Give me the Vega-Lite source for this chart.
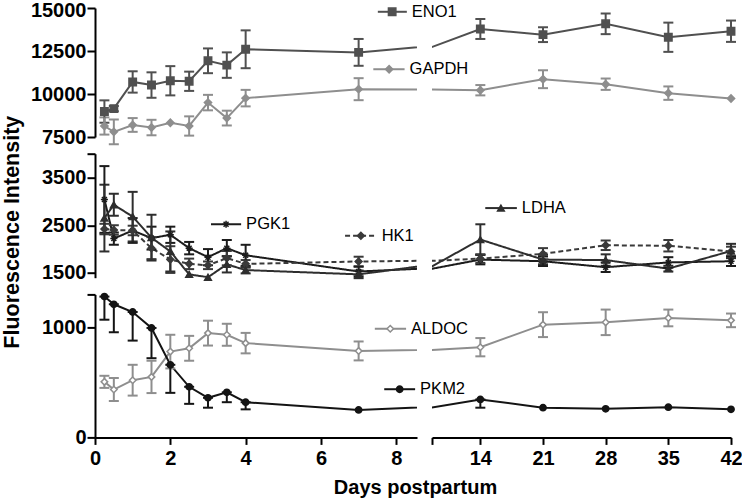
{
  "$schema": "https://vega.github.io/schema/vega-lite/v6.json",
  "background": "white",
  "padding": {"left": 0, "top": 0, "right": 6, "bottom": 0},
  "bounds": "flush",
  "columns": 2,
  "spacing": {"row": 16.7, "column": 15},
  "config": {
    "view": {"stroke": null},
    "axis": {
      "domainColor": "#000", "domainWidth": 2, "tickColor": "#000", "tickWidth": 2, "tickSize": 8,
      "labelColor": "#000", "labelFont": "Liberation Sans", "labelFontWeight": "bold", "labelFontSize": 20,
      "labelPadding": 1, "titleFont": "Liberation Sans", "titleFontWeight": "bold", "titleFontSize": 20,
      "titleColor": "#000", "grid": false, "labelOverlap": false, "labelFlush": false
    },
    "text": {"font": "Liberation Sans"}
  },
  "datasets": {
    "d": [
      {"gene": "ENO1", "day": 0.25, "v": 8980, "lo": 8330, "hi": 9630},
      {"gene": "ENO1", "day": 0.5, "v": 9150, "lo": 9000, "hi": 9300},
      {"gene": "ENO1", "day": 1, "v": 10700, "lo": 10080, "hi": 11320},
      {"gene": "ENO1", "day": 1.5, "v": 10520, "lo": 9780, "hi": 11260},
      {"gene": "ENO1", "day": 2, "v": 10770, "lo": 9920, "hi": 11620},
      {"gene": "ENO1", "day": 2.5, "v": 10740, "lo": 10180, "hi": 11300},
      {"gene": "ENO1", "day": 3, "v": 11930, "lo": 11210, "hi": 12650},
      {"gene": "ENO1", "day": 3.5, "v": 11680, "lo": 10940, "hi": 12420},
      {"gene": "ENO1", "day": 4, "v": 12600, "lo": 11500, "hi": 13700},
      {"gene": "ENO1", "day": 7, "v": 12420, "lo": 11640, "hi": 13200},
      {"gene": "ENO1", "day": 14, "v": 13780, "lo": 13200, "hi": 14360},
      {"gene": "ENO1", "day": 21, "v": 13450, "lo": 13020, "hi": 13880},
      {"gene": "ENO1", "day": 28, "v": 14080, "lo": 13480, "hi": 14680},
      {"gene": "ENO1", "day": 35, "v": 13300, "lo": 12450, "hi": 14150},
      {"gene": "ENO1", "day": 42, "v": 13650, "lo": 13030, "hi": 14270},
      {"gene": "GAPDH", "day": 0.25, "v": 8140, "lo": 7640, "hi": 8640},
      {"gene": "GAPDH", "day": 0.5, "v": 7800, "lo": 7080, "hi": 8520},
      {"gene": "GAPDH", "day": 1, "v": 8200, "lo": 7800, "hi": 8600},
      {"gene": "GAPDH", "day": 1.5, "v": 8050, "lo": 7600, "hi": 8500},
      {"gene": "GAPDH", "day": 2, "v": 8330, "lo": null, "hi": null},
      {"gene": "GAPDH", "day": 2.5, "v": 8140, "lo": 7580, "hi": 8700},
      {"gene": "GAPDH", "day": 3, "v": 9500, "lo": 9050, "hi": 9950},
      {"gene": "GAPDH", "day": 3.5, "v": 8600, "lo": 8170, "hi": 9030},
      {"gene": "GAPDH", "day": 4, "v": 9760, "lo": 9280, "hi": 10240},
      {"gene": "GAPDH", "day": 7, "v": 10280, "lo": 9640, "hi": 10920},
      {"gene": "GAPDH", "day": 14, "v": 10220, "lo": 9920, "hi": 10520},
      {"gene": "GAPDH", "day": 21, "v": 10860, "lo": 10340, "hi": 11380},
      {"gene": "GAPDH", "day": 28, "v": 10570, "lo": 10240, "hi": 10900},
      {"gene": "GAPDH", "day": 35, "v": 10050, "lo": 9660, "hi": 10440},
      {"gene": "GAPDH", "day": 42, "v": 9740, "lo": null, "hi": null},
      {"gene": "PGK1", "day": 0.25, "v": 3040, "lo": 2340, "hi": 3740},
      {"gene": "PGK1", "day": 0.5, "v": 2220, "lo": 2090, "hi": 2350},
      {"gene": "PGK1", "day": 1, "v": 2390, "lo": 2130, "hi": 2650},
      {"gene": "PGK1", "day": 1.5, "v": 2230, "lo": 1990, "hi": 2470},
      {"gene": "PGK1", "day": 2, "v": 2300, "lo": 2130, "hi": 2470},
      {"gene": "PGK1", "day": 2.5, "v": 2020, "lo": 1890, "hi": 2150},
      {"gene": "PGK1", "day": 3, "v": 1830, "lo": 1660, "hi": 2000},
      {"gene": "PGK1", "day": 3.5, "v": 2020, "lo": 1850, "hi": 2190},
      {"gene": "PGK1", "day": 4, "v": 1870, "lo": 1650, "hi": 2090},
      {"gene": "PGK1", "day": 7, "v": 1530, "lo": 1430, "hi": 1630},
      {"gene": "PGK1", "day": 14, "v": 1780, "lo": 1680, "hi": 1880},
      {"gene": "PGK1", "day": 21, "v": 1745, "lo": 1645, "hi": 1845},
      {"gene": "PGK1", "day": 28, "v": 1620, "lo": 1520, "hi": 1720},
      {"gene": "PGK1", "day": 35, "v": 1720, "lo": 1610, "hi": 1830},
      {"gene": "PGK1", "day": 42, "v": 1745, "lo": 1645, "hi": 1845},
      {"gene": "HK1", "day": 0.25, "v": 2420, "lo": 2310, "hi": 2530},
      {"gene": "HK1", "day": 0.5, "v": 2400, "lo": 2300, "hi": 2500},
      {"gene": "HK1", "day": 1, "v": 2390, "lo": 2290, "hi": 2490},
      {"gene": "HK1", "day": 1.5, "v": 2020, "lo": 1790, "hi": 2250},
      {"gene": "HK1", "day": 2, "v": 1780, "lo": 1500, "hi": 2060},
      {"gene": "HK1", "day": 2.5, "v": 1690, "lo": 1580, "hi": 1800},
      {"gene": "HK1", "day": 3, "v": 1660, "lo": 1580, "hi": 1740},
      {"gene": "HK1", "day": 3.5, "v": 1810, "lo": 1660, "hi": 1960},
      {"gene": "HK1", "day": 4, "v": 1690, "lo": 1610, "hi": 1770},
      {"gene": "HK1", "day": 7, "v": 1740, "lo": 1640, "hi": 1840},
      {"gene": "HK1", "day": 14, "v": 1800, "lo": 1710, "hi": 1890},
      {"gene": "HK1", "day": 21, "v": 1900, "lo": 1780, "hi": 2020},
      {"gene": "HK1", "day": 28, "v": 2080, "lo": 1980, "hi": 2180},
      {"gene": "HK1", "day": 35, "v": 2070, "lo": 1950, "hi": 2190},
      {"gene": "HK1", "day": 42, "v": 1950, "lo": 1850, "hi": 2050},
      {"gene": "LDHA", "day": 0.25, "v": 2650, "lo": 1950, "hi": 3350},
      {"gene": "LDHA", "day": 0.5, "v": 2930, "lo": 2700, "hi": 3160},
      {"gene": "LDHA", "day": 1, "v": 2680, "lo": 2160, "hi": 3200},
      {"gene": "LDHA", "day": 1.5, "v": 2240, "lo": 1760, "hi": 2720},
      {"gene": "LDHA", "day": 2, "v": 1950, "lo": 1530, "hi": 2370},
      {"gene": "LDHA", "day": 2.5, "v": 1470, "lo": null, "hi": null},
      {"gene": "LDHA", "day": 3, "v": 1410, "lo": null, "hi": null},
      {"gene": "LDHA", "day": 3.5, "v": 1680, "lo": 1510, "hi": 1850},
      {"gene": "LDHA", "day": 4, "v": 1560, "lo": 1490, "hi": 1630},
      {"gene": "LDHA", "day": 7, "v": 1470, "lo": 1390, "hi": 1550},
      {"gene": "LDHA", "day": 14, "v": 2200, "lo": 1880, "hi": 2520},
      {"gene": "LDHA", "day": 21, "v": 1780, "lo": 1680, "hi": 1880},
      {"gene": "LDHA", "day": 28, "v": 1770, "lo": 1650, "hi": 1890},
      {"gene": "LDHA", "day": 35, "v": 1590, "lo": 1530, "hi": 1650},
      {"gene": "LDHA", "day": 42, "v": 1960, "lo": 1810, "hi": 2110},
      {"gene": "ALDOC", "day": 0.25, "v": 505, "lo": 450, "hi": 560},
      {"gene": "ALDOC", "day": 0.5, "v": 435, "lo": 330, "hi": 540},
      {"gene": "ALDOC", "day": 1, "v": 520, "lo": 380, "hi": 660},
      {"gene": "ALDOC", "day": 1.5, "v": 550, "lo": 403, "hi": 697},
      {"gene": "ALDOC", "day": 2, "v": 780, "lo": 627, "hi": 933},
      {"gene": "ALDOC", "day": 2.5, "v": 810, "lo": 697, "hi": 923},
      {"gene": "ALDOC", "day": 3, "v": 948, "lo": 835, "hi": 1061},
      {"gene": "ALDOC", "day": 3.5, "v": 933, "lo": 833, "hi": 1033},
      {"gene": "ALDOC", "day": 4, "v": 857, "lo": 764, "hi": 950},
      {"gene": "ALDOC", "day": 7, "v": 786, "lo": 700, "hi": 872},
      {"gene": "ALDOC", "day": 14, "v": 820, "lo": 737, "hi": 903},
      {"gene": "ALDOC", "day": 21, "v": 1025, "lo": 912, "hi": 1138},
      {"gene": "ALDOC", "day": 28, "v": 1046, "lo": 930, "hi": 1162},
      {"gene": "ALDOC", "day": 35, "v": 1086, "lo": 1010, "hi": 1162},
      {"gene": "ALDOC", "day": 42, "v": 1064, "lo": 1002, "hi": 1126},
      {"gene": "PKM2", "day": 0.25, "v": 1280, "lo": 1070, "hi": 1280},
      {"gene": "PKM2", "day": 0.5, "v": 1210, "lo": 955, "hi": 1210},
      {"gene": "PKM2", "day": 1, "v": 1140, "lo": 880, "hi": 1140},
      {"gene": "PKM2", "day": 1.5, "v": 995, "lo": 720, "hi": 995},
      {"gene": "PKM2", "day": 2, "v": 660, "lo": 405, "hi": 660},
      {"gene": "PKM2", "day": 2.5, "v": 460, "lo": 305, "hi": 460},
      {"gene": "PKM2", "day": 3, "v": 360, "lo": 270, "hi": 360},
      {"gene": "PKM2", "day": 3.5, "v": 410, "lo": 320, "hi": 410},
      {"gene": "PKM2", "day": 4, "v": 320, "lo": 255, "hi": 320},
      {"gene": "PKM2", "day": 7, "v": 250, "lo": null, "hi": null},
      {"gene": "PKM2", "day": 14, "v": 345, "lo": 270, "hi": 345},
      {"gene": "PKM2", "day": 21, "v": 270, "lo": null, "hi": null},
      {"gene": "PKM2", "day": 28, "v": 260, "lo": null, "hi": null},
      {"gene": "PKM2", "day": 35, "v": 275, "lo": null, "hi": null},
      {"gene": "PKM2", "day": 42, "v": 255, "lo": null, "hi": null}
    ],
    "lab": [
      {"gene": "ENO1", "x1": 7.51, "x2": 8.28, "xm": 7.89, "y": 14780},
      {"gene": "GAPDH", "x1": 7.39, "x2": 8.22, "xm": 7.81, "y": 11440},
      {"gene": "PGK1", "x1": 3.08, "x2": 3.88, "xm": 3.48, "y": 2520},
      {"gene": "HK1", "x1": 6.64, "x2": 7.48, "xm": 7.06, "y": 2280},
      {"gene": "LDHA", "x1": 14.55, "x2": 18.08, "xm": 16.3, "y": 2860},
      {"gene": "ALDOC", "x1": 7.43, "x2": 8.26, "xm": 7.84, "y": 988},
      {"gene": "PKM2", "x1": 7.68, "x2": 8.5, "xm": 8.09, "y": 438}
    ]
  },
  "concat": [
    {
      "width": 322, "height": 129,
      "layer": [
        {"data": {"name": "d"}, "transform": [{"filter": {"field": "gene", "oneOf": ["ENO1", "GAPDH"]}}],
         "mark": {"type": "line", "clip": true, "strokeWidth": 2},
         "encoding": {
           "x": {"field": "day", "type": "quantitative", "scale": {"domain": [0, 8.55], "nice": false, "zero": false}, "axis": null},
           "y": {"field": "v", "type": "quantitative", "scale": {"domain": [7500, 15000], "nice": false, "zero": false},
                 "axis": {"values": [7500, 10000, 12500, 15000], "format": "d", "labelOverlap": false, "title": null,
                          "labelOffset": {"condition": {"test": "datum.value == 15000", "value": 2.7}, "value": 0}}},
           "color": {"field": "gene", "type": "nominal", "legend": null, "scale": {"domain": ["ENO1","GAPDH","PGK1","HK1","LDHA","ALDOC","PKM2"], "range": ["#505050","#8e8e8e","#1c1c1c","#3a3a3a","#2e2e2e","#8e8e8e","#141414"]}}
         }},
        {"data": {"name": "d"}, "transform": [{"filter": {"field": "gene", "oneOf": ["ENO1", "GAPDH"]}}, {"filter": "isValid(datum.lo)"}, {"filter": {"field": "day", "range": [0, 8.55]}}],
         "mark": {"type": "errorbar", "ticks": true, "size": 10, "thickness": 2, "opacity": 1},
         "encoding": {
           "x": {"field": "day", "type": "quantitative", "axis": null},
           "y": {"field": "lo", "type": "quantitative", "title": null},
           "y2": {"field": "hi"},
           "color": {"field": "gene", "type": "nominal", "legend": null, "scale": {"domain": ["ENO1","GAPDH","PGK1","HK1","LDHA","ALDOC","PKM2"], "range": ["#505050","#8e8e8e","#1c1c1c","#3a3a3a","#2e2e2e","#8e8e8e","#141414"]}}
         }},
        {"data": {"name": "d"}, "transform": [{"filter": {"field": "gene", "oneOf": ["ENO1", "GAPDH"]}}, {"filter": {"field": "day", "range": [0, 8.55]}}],
         "mark": {"type": "point", "opacity": 1, "strokeWidth": 1.5},
         "encoding": {
           "x": {"field": "day", "type": "quantitative", "axis": null},
           "y": {"field": "v", "type": "quantitative"},
           "shape": {"field": "gene", "type": "nominal", "legend": null, "scale": {"domain": ["ENO1","GAPDH","PGK1","HK1","LDHA","ALDOC","PKM2"], "range": ["square","diamond","M-1,0L1,0M0,-1L0,1M-0.7,-0.7L0.7,0.7M-0.7,0.7L0.7,-0.7","diamond","triangle-up","diamond","circle"]}},
           "fill": {"field": "gene", "type": "nominal", "legend": null, "scale": {"domain": ["ENO1","GAPDH","PGK1","HK1","LDHA","ALDOC","PKM2"], "range": ["#505050","#8e8e8e","#1c1c1c","#3a3a3a","#2e2e2e","#ffffff","#141414"]}},
           "stroke": {"field": "gene", "type": "nominal", "legend": null, "scale": {"domain": ["ENO1","GAPDH","PGK1","HK1","LDHA","ALDOC","PKM2"], "range": ["#505050","#8e8e8e","#1c1c1c","#3a3a3a","#2e2e2e","#8e8e8e","#141414"]}},
           "size": {"field": "gene", "type": "nominal", "legend": null, "scale": {"domain": ["ENO1","GAPDH","PGK1","HK1","LDHA","ALDOC","PKM2"], "range": [55, 40, 110, 40, 55, 60, 55]}}
         }},
        {"data": {"name": "lab"}, "transform": [{"filter": {"field": "gene", "oneOf": ["ENO1", "GAPDH"]}}],
         "mark": {"type": "rule", "strokeWidth": 2},
         "encoding": {
           "x": {"field": "x1", "type": "quantitative", "axis": null},
           "x2": {"field": "x2"},
           "y": {"field": "y", "type": "quantitative"},
           "color": {"field": "gene", "type": "nominal", "legend": null, "scale": {"domain": ["ENO1","GAPDH","PGK1","HK1","LDHA","ALDOC","PKM2"], "range": ["#505050","#8e8e8e","#1c1c1c","#3a3a3a","#2e2e2e","#8e8e8e","#141414"]}}
         }},
        {"data": {"name": "lab"}, "transform": [{"filter": {"field": "gene", "oneOf": ["ENO1", "GAPDH"]}}],
         "mark": {"type": "point", "opacity": 1, "strokeWidth": 1.5},
         "encoding": {
           "x": {"field": "xm", "type": "quantitative", "axis": null},
           "y": {"field": "y", "type": "quantitative"},
           "shape": {"field": "gene", "type": "nominal", "legend": null, "scale": {"domain": ["ENO1","GAPDH","PGK1","HK1","LDHA","ALDOC","PKM2"], "range": ["square","diamond","M-1,0L1,0M0,-1L0,1M-0.7,-0.7L0.7,0.7M-0.7,0.7L0.7,-0.7","diamond","triangle-up","diamond","circle"]}},
           "fill": {"field": "gene", "type": "nominal", "legend": null, "scale": {"domain": ["ENO1","GAPDH","PGK1","HK1","LDHA","ALDOC","PKM2"], "range": ["#505050","#8e8e8e","#1c1c1c","#3a3a3a","#2e2e2e","#ffffff","#141414"]}},
           "stroke": {"field": "gene", "type": "nominal", "legend": null, "scale": {"domain": ["ENO1","GAPDH","PGK1","HK1","LDHA","ALDOC","PKM2"], "range": ["#505050","#8e8e8e","#1c1c1c","#3a3a3a","#2e2e2e","#8e8e8e","#141414"]}},
           "size": {"field": "gene", "type": "nominal", "legend": null, "scale": {"domain": ["ENO1","GAPDH","PGK1","HK1","LDHA","ALDOC","PKM2"], "range": [55, 40, 110, 40, 55, 60, 55]}}
         }},
        {"data": {"name": "lab"}, "transform": [{"filter": {"field": "gene", "oneOf": ["ENO1", "GAPDH"]}}],
         "mark": {"type": "text", "align": "left", "baseline": "middle", "dx": 5, "fontSize": 16.5, "color": "#000"},
         "encoding": {
           "x": {"field": "x2", "type": "quantitative", "axis": null},
           "y": {"field": "y", "type": "quantitative"},
           "text": {"field": "gene"}
         }}
      ]
    },
    {
      "width": 299, "height": 129,
      "layer": [
        {"data": {"name": "d"}, "transform": [{"filter": {"field": "gene", "oneOf": ["ENO1", "GAPDH"]}}],
         "mark": {"type": "line", "clip": true, "strokeWidth": 2},
         "encoding": {
           "x": {"field": "day", "type": "quantitative", "scale": {"domain": [8.6, 42], "nice": false, "zero": false}, "axis": null},
           "y": {"field": "v", "type": "quantitative", "scale": {"domain": [7500, 15000], "nice": false, "zero": false}, "axis": null},
           "color": {"field": "gene", "type": "nominal", "legend": null, "scale": {"domain": ["ENO1","GAPDH","PGK1","HK1","LDHA","ALDOC","PKM2"], "range": ["#505050","#8e8e8e","#1c1c1c","#3a3a3a","#2e2e2e","#8e8e8e","#141414"]}}
         }},
        {"data": {"name": "d"}, "transform": [{"filter": {"field": "gene", "oneOf": ["ENO1", "GAPDH"]}}, {"filter": "isValid(datum.lo)"}, {"filter": {"field": "day", "range": [8.6, 42]}}],
         "mark": {"type": "errorbar", "ticks": true, "size": 10, "thickness": 2, "opacity": 1},
         "encoding": {
           "x": {"field": "day", "type": "quantitative", "axis": null},
           "y": {"field": "lo", "type": "quantitative", "axis": null},
           "y2": {"field": "hi"},
           "color": {"field": "gene", "type": "nominal", "legend": null, "scale": {"domain": ["ENO1","GAPDH","PGK1","HK1","LDHA","ALDOC","PKM2"], "range": ["#505050","#8e8e8e","#1c1c1c","#3a3a3a","#2e2e2e","#8e8e8e","#141414"]}}
         }},
        {"data": {"name": "d"}, "transform": [{"filter": {"field": "gene", "oneOf": ["ENO1", "GAPDH"]}}, {"filter": {"field": "day", "range": [8.6, 42]}}],
         "mark": {"type": "point", "opacity": 1, "strokeWidth": 1.5},
         "encoding": {
           "x": {"field": "day", "type": "quantitative", "axis": null},
           "y": {"field": "v", "type": "quantitative", "axis": null},
           "shape": {"field": "gene", "type": "nominal", "legend": null, "scale": {"domain": ["ENO1","GAPDH","PGK1","HK1","LDHA","ALDOC","PKM2"], "range": ["square","diamond","M-1,0L1,0M0,-1L0,1M-0.7,-0.7L0.7,0.7M-0.7,0.7L0.7,-0.7","diamond","triangle-up","diamond","circle"]}},
           "fill": {"field": "gene", "type": "nominal", "legend": null, "scale": {"domain": ["ENO1","GAPDH","PGK1","HK1","LDHA","ALDOC","PKM2"], "range": ["#505050","#8e8e8e","#1c1c1c","#3a3a3a","#2e2e2e","#ffffff","#141414"]}},
           "stroke": {"field": "gene", "type": "nominal", "legend": null, "scale": {"domain": ["ENO1","GAPDH","PGK1","HK1","LDHA","ALDOC","PKM2"], "range": ["#505050","#8e8e8e","#1c1c1c","#3a3a3a","#2e2e2e","#8e8e8e","#141414"]}},
           "size": {"field": "gene", "type": "nominal", "legend": null, "scale": {"domain": ["ENO1","GAPDH","PGK1","HK1","LDHA","ALDOC","PKM2"], "range": [55, 40, 110, 40, 55, 60, 55]}}
         }}
      ]
    },
    {
      "width": 322, "height": 124,
      "layer": [
        {"data": {"name": "d"}, "transform": [{"filter": {"field": "gene", "oneOf": ["PGK1", "HK1", "LDHA"]}}],
         "mark": {"type": "line", "clip": true, "strokeWidth": 2},
         "encoding": {
           "x": {"field": "day", "type": "quantitative", "scale": {"domain": [0, 8.55], "nice": false, "zero": false}, "axis": null},
           "y": {"field": "v", "type": "quantitative", "scale": {"domain": [1400, 4000], "nice": false, "zero": false},
                 "axis": {"values": [1500, 2500, 3500, 4000], "format": "d", "labelOverlap": false, "labelExpr": "datum.value == 4000 ? '' : datum.label",
                          "title": "Fluorescence Intensity", "titleFontSize": 21.5, "titleAngle": -90, "titleAlign": "center", "titleBaseline": "middle", "titleX": -83, "titleY": 78}},
           "color": {"field": "gene", "type": "nominal", "legend": null, "scale": {"domain": ["ENO1","GAPDH","PGK1","HK1","LDHA","ALDOC","PKM2"], "range": ["#505050","#8e8e8e","#1c1c1c","#3a3a3a","#2e2e2e","#8e8e8e","#141414"]}},
           "strokeDash": {"field": "gene", "type": "nominal", "legend": null, "scale": {"domain": ["ENO1","GAPDH","PGK1","HK1","LDHA","ALDOC","PKM2"], "range": [[1,0],[1,0],[1,0],[5,3],[1,0],[1,0],[1,0]]}}
         }},
        {"data": {"name": "d"}, "transform": [{"filter": {"field": "gene", "oneOf": ["PGK1", "HK1", "LDHA"]}}, {"filter": "isValid(datum.lo)"}, {"filter": {"field": "day", "range": [0, 8.55]}}],
         "mark": {"type": "errorbar", "ticks": true, "size": 10, "thickness": 2, "opacity": 1},
         "encoding": {
           "x": {"field": "day", "type": "quantitative", "axis": null},
           "y": {"field": "lo", "type": "quantitative", "title": "Fluorescence Intensity"},
           "y2": {"field": "hi"},
           "color": {"field": "gene", "type": "nominal", "legend": null, "scale": {"domain": ["ENO1","GAPDH","PGK1","HK1","LDHA","ALDOC","PKM2"], "range": ["#505050","#8e8e8e","#1c1c1c","#3a3a3a","#2e2e2e","#8e8e8e","#141414"]}}
         }},
        {"data": {"name": "d"}, "transform": [{"filter": {"field": "gene", "oneOf": ["PGK1", "HK1", "LDHA"]}}, {"filter": {"field": "day", "range": [0, 8.55]}}],
         "mark": {"type": "point", "opacity": 1, "strokeWidth": 1.5},
         "encoding": {
           "x": {"field": "day", "type": "quantitative", "axis": null},
           "y": {"field": "v", "type": "quantitative"},
           "shape": {"field": "gene", "type": "nominal", "legend": null, "scale": {"domain": ["ENO1","GAPDH","PGK1","HK1","LDHA","ALDOC","PKM2"], "range": ["square","diamond","M-1,0L1,0M0,-1L0,1M-0.7,-0.7L0.7,0.7M-0.7,0.7L0.7,-0.7","diamond","triangle-up","diamond","circle"]}},
           "fill": {"field": "gene", "type": "nominal", "legend": null, "scale": {"domain": ["ENO1","GAPDH","PGK1","HK1","LDHA","ALDOC","PKM2"], "range": ["#505050","#8e8e8e","#1c1c1c","#3a3a3a","#2e2e2e","#ffffff","#141414"]}},
           "stroke": {"field": "gene", "type": "nominal", "legend": null, "scale": {"domain": ["ENO1","GAPDH","PGK1","HK1","LDHA","ALDOC","PKM2"], "range": ["#505050","#8e8e8e","#1c1c1c","#3a3a3a","#2e2e2e","#8e8e8e","#141414"]}},
           "size": {"field": "gene", "type": "nominal", "legend": null, "scale": {"domain": ["ENO1","GAPDH","PGK1","HK1","LDHA","ALDOC","PKM2"], "range": [55, 40, 110, 40, 55, 60, 55]}}
         }},
        {"data": {"name": "lab"}, "transform": [{"filter": {"field": "gene", "oneOf": ["PGK1", "HK1"]}}],
         "mark": {"type": "rule", "strokeWidth": 2},
         "encoding": {
           "x": {"field": "x1", "type": "quantitative", "axis": null},
           "x2": {"field": "x2"},
           "y": {"field": "y", "type": "quantitative"},
           "color": {"field": "gene", "type": "nominal", "legend": null, "scale": {"domain": ["ENO1","GAPDH","PGK1","HK1","LDHA","ALDOC","PKM2"], "range": ["#505050","#8e8e8e","#1c1c1c","#3a3a3a","#2e2e2e","#8e8e8e","#141414"]}},
           "strokeDash": {"field": "gene", "type": "nominal", "legend": null, "scale": {"domain": ["ENO1","GAPDH","PGK1","HK1","LDHA","ALDOC","PKM2"], "range": [[1,0],[1,0],[1,0],[5,3],[1,0],[1,0],[1,0]]}}
         }},
        {"data": {"name": "lab"}, "transform": [{"filter": {"field": "gene", "oneOf": ["PGK1", "HK1"]}}],
         "mark": {"type": "point", "opacity": 1, "strokeWidth": 1.5},
         "encoding": {
           "x": {"field": "xm", "type": "quantitative", "axis": null},
           "y": {"field": "y", "type": "quantitative"},
           "shape": {"field": "gene", "type": "nominal", "legend": null, "scale": {"domain": ["ENO1","GAPDH","PGK1","HK1","LDHA","ALDOC","PKM2"], "range": ["square","diamond","M-1,0L1,0M0,-1L0,1M-0.7,-0.7L0.7,0.7M-0.7,0.7L0.7,-0.7","diamond","triangle-up","diamond","circle"]}},
           "fill": {"field": "gene", "type": "nominal", "legend": null, "scale": {"domain": ["ENO1","GAPDH","PGK1","HK1","LDHA","ALDOC","PKM2"], "range": ["#505050","#8e8e8e","#1c1c1c","#3a3a3a","#2e2e2e","#ffffff","#141414"]}},
           "stroke": {"field": "gene", "type": "nominal", "legend": null, "scale": {"domain": ["ENO1","GAPDH","PGK1","HK1","LDHA","ALDOC","PKM2"], "range": ["#505050","#8e8e8e","#1c1c1c","#3a3a3a","#2e2e2e","#8e8e8e","#141414"]}},
           "size": {"field": "gene", "type": "nominal", "legend": null, "scale": {"domain": ["ENO1","GAPDH","PGK1","HK1","LDHA","ALDOC","PKM2"], "range": [55, 40, 110, 40, 55, 60, 55]}}
         }},
        {"data": {"name": "lab"}, "transform": [{"filter": {"field": "gene", "oneOf": ["PGK1", "HK1"]}}],
         "mark": {"type": "text", "align": "left", "baseline": "middle", "dx": 5, "fontSize": 16.5, "color": "#000"},
         "encoding": {
           "x": {"field": "x2", "type": "quantitative", "axis": null},
           "y": {"field": "y", "type": "quantitative"},
           "text": {"field": "gene"}
         }}
      ]
    },
    {
      "width": 299, "height": 124,
      "layer": [
        {"data": {"name": "d"}, "transform": [{"filter": {"field": "gene", "oneOf": ["PGK1", "HK1", "LDHA"]}}],
         "mark": {"type": "line", "clip": true, "strokeWidth": 2},
         "encoding": {
           "x": {"field": "day", "type": "quantitative", "scale": {"domain": [8.6, 42], "nice": false, "zero": false}, "axis": null},
           "y": {"field": "v", "type": "quantitative", "scale": {"domain": [1400, 4000], "nice": false, "zero": false}, "axis": null},
           "color": {"field": "gene", "type": "nominal", "legend": null, "scale": {"domain": ["ENO1","GAPDH","PGK1","HK1","LDHA","ALDOC","PKM2"], "range": ["#505050","#8e8e8e","#1c1c1c","#3a3a3a","#2e2e2e","#8e8e8e","#141414"]}},
           "strokeDash": {"field": "gene", "type": "nominal", "legend": null, "scale": {"domain": ["ENO1","GAPDH","PGK1","HK1","LDHA","ALDOC","PKM2"], "range": [[1,0],[1,0],[1,0],[5,3],[1,0],[1,0],[1,0]]}}
         }},
        {"data": {"name": "d"}, "transform": [{"filter": {"field": "gene", "oneOf": ["PGK1", "HK1", "LDHA"]}}, {"filter": "isValid(datum.lo)"}, {"filter": {"field": "day", "range": [8.6, 42]}}],
         "mark": {"type": "errorbar", "ticks": true, "size": 10, "thickness": 2, "opacity": 1},
         "encoding": {
           "x": {"field": "day", "type": "quantitative", "axis": null},
           "y": {"field": "lo", "type": "quantitative", "axis": null},
           "y2": {"field": "hi"},
           "color": {"field": "gene", "type": "nominal", "legend": null, "scale": {"domain": ["ENO1","GAPDH","PGK1","HK1","LDHA","ALDOC","PKM2"], "range": ["#505050","#8e8e8e","#1c1c1c","#3a3a3a","#2e2e2e","#8e8e8e","#141414"]}}
         }},
        {"data": {"name": "d"}, "transform": [{"filter": {"field": "gene", "oneOf": ["PGK1", "HK1", "LDHA"]}}, {"filter": {"field": "day", "range": [8.6, 42]}}],
         "mark": {"type": "point", "opacity": 1, "strokeWidth": 1.5},
         "encoding": {
           "x": {"field": "day", "type": "quantitative", "axis": null},
           "y": {"field": "v", "type": "quantitative", "axis": null},
           "shape": {"field": "gene", "type": "nominal", "legend": null, "scale": {"domain": ["ENO1","GAPDH","PGK1","HK1","LDHA","ALDOC","PKM2"], "range": ["square","diamond","M-1,0L1,0M0,-1L0,1M-0.7,-0.7L0.7,0.7M-0.7,0.7L0.7,-0.7","diamond","triangle-up","diamond","circle"]}},
           "fill": {"field": "gene", "type": "nominal", "legend": null, "scale": {"domain": ["ENO1","GAPDH","PGK1","HK1","LDHA","ALDOC","PKM2"], "range": ["#505050","#8e8e8e","#1c1c1c","#3a3a3a","#2e2e2e","#ffffff","#141414"]}},
           "stroke": {"field": "gene", "type": "nominal", "legend": null, "scale": {"domain": ["ENO1","GAPDH","PGK1","HK1","LDHA","ALDOC","PKM2"], "range": ["#505050","#8e8e8e","#1c1c1c","#3a3a3a","#2e2e2e","#8e8e8e","#141414"]}},
           "size": {"field": "gene", "type": "nominal", "legend": null, "scale": {"domain": ["ENO1","GAPDH","PGK1","HK1","LDHA","ALDOC","PKM2"], "range": [55, 40, 110, 40, 55, 60, 55]}}
         }},
        {"data": {"name": "lab"}, "transform": [{"filter": {"field": "gene", "oneOf": ["LDHA"]}}],
         "mark": {"type": "rule", "strokeWidth": 2},
         "encoding": {
           "x": {"field": "x1", "type": "quantitative", "axis": null},
           "x2": {"field": "x2"},
           "y": {"field": "y", "type": "quantitative", "axis": null},
           "color": {"field": "gene", "type": "nominal", "legend": null, "scale": {"domain": ["ENO1","GAPDH","PGK1","HK1","LDHA","ALDOC","PKM2"], "range": ["#505050","#8e8e8e","#1c1c1c","#3a3a3a","#2e2e2e","#8e8e8e","#141414"]}}
         }},
        {"data": {"name": "lab"}, "transform": [{"filter": {"field": "gene", "oneOf": ["LDHA"]}}],
         "mark": {"type": "point", "opacity": 1, "strokeWidth": 1.5},
         "encoding": {
           "x": {"field": "xm", "type": "quantitative", "axis": null},
           "y": {"field": "y", "type": "quantitative", "axis": null},
           "shape": {"field": "gene", "type": "nominal", "legend": null, "scale": {"domain": ["ENO1","GAPDH","PGK1","HK1","LDHA","ALDOC","PKM2"], "range": ["square","diamond","M-1,0L1,0M0,-1L0,1M-0.7,-0.7L0.7,0.7M-0.7,0.7L0.7,-0.7","diamond","triangle-up","diamond","circle"]}},
           "fill": {"field": "gene", "type": "nominal", "legend": null, "scale": {"domain": ["ENO1","GAPDH","PGK1","HK1","LDHA","ALDOC","PKM2"], "range": ["#505050","#8e8e8e","#1c1c1c","#3a3a3a","#2e2e2e","#ffffff","#141414"]}},
           "stroke": {"field": "gene", "type": "nominal", "legend": null, "scale": {"domain": ["ENO1","GAPDH","PGK1","HK1","LDHA","ALDOC","PKM2"], "range": ["#505050","#8e8e8e","#1c1c1c","#3a3a3a","#2e2e2e","#8e8e8e","#141414"]}},
           "size": {"field": "gene", "type": "nominal", "legend": null, "scale": {"domain": ["ENO1","GAPDH","PGK1","HK1","LDHA","ALDOC","PKM2"], "range": [55, 40, 110, 40, 55, 60, 55]}}
         }},
        {"data": {"name": "lab"}, "transform": [{"filter": {"field": "gene", "oneOf": ["LDHA"]}}],
         "mark": {"type": "text", "align": "left", "baseline": "middle", "dx": 5, "fontSize": 16.5, "color": "#000"},
         "encoding": {
           "x": {"field": "x2", "type": "quantitative", "axis": null},
           "y": {"field": "y", "type": "quantitative", "axis": null},
           "text": {"field": "gene"}
         }}
      ]
    },
    {
      "width": 322, "height": 143,
      "layer": [
        {"data": {"name": "d"}, "transform": [{"filter": {"field": "gene", "oneOf": ["ALDOC", "PKM2"]}}],
         "mark": {"type": "line", "clip": true, "strokeWidth": 2},
         "encoding": {
           "x": {"field": "day", "type": "quantitative", "scale": {"domain": [0, 8.55], "nice": false, "zero": false},
                 "axis": {"values": [0, 1, 2, 3, 4, 5, 6, 7, 8, 8.55], "labelOverlap": false, "labelExpr": "datum.value % 2 == 0 ? datum.label : ''", "tickSize": 7, "labelPadding": 4,
                          "title": "Days postpartum", "titleX": 320, "titleY": 56, "titleAlign": "center", "titleBaseline": "alphabetic"}},
           "y": {"field": "v", "type": "quantitative", "scale": {"domain": [0, 1300], "nice": false, "zero": false},
                 "axis": {"values": [0, 1000, 1300], "format": "d", "labelOverlap": false, "labelExpr": "datum.value == 1300 ? '' : datum.label", "title": null}},
           "color": {"field": "gene", "type": "nominal", "legend": null, "scale": {"domain": ["ENO1","GAPDH","PGK1","HK1","LDHA","ALDOC","PKM2"], "range": ["#505050","#8e8e8e","#1c1c1c","#3a3a3a","#2e2e2e","#8e8e8e","#141414"]}}
         }},
        {"data": {"name": "d"}, "transform": [{"filter": {"field": "gene", "oneOf": ["ALDOC", "PKM2"]}}, {"filter": "isValid(datum.lo)"}, {"filter": {"field": "day", "range": [0, 8.55]}}],
         "mark": {"type": "errorbar", "ticks": true, "size": 10, "thickness": 2, "opacity": 1},
         "encoding": {
           "x": {"field": "day", "type": "quantitative", "title": "Days postpartum"},
           "y": {"field": "lo", "type": "quantitative", "title": null},
           "y2": {"field": "hi"},
           "color": {"field": "gene", "type": "nominal", "legend": null, "scale": {"domain": ["ENO1","GAPDH","PGK1","HK1","LDHA","ALDOC","PKM2"], "range": ["#505050","#8e8e8e","#1c1c1c","#3a3a3a","#2e2e2e","#8e8e8e","#141414"]}}
         }},
        {"data": {"name": "d"}, "transform": [{"filter": {"field": "gene", "oneOf": ["ALDOC", "PKM2"]}}, {"filter": {"field": "day", "range": [0, 8.55]}}],
         "mark": {"type": "point", "opacity": 1, "strokeWidth": 1.5},
         "encoding": {
           "x": {"field": "day", "type": "quantitative"},
           "y": {"field": "v", "type": "quantitative"},
           "shape": {"field": "gene", "type": "nominal", "legend": null, "scale": {"domain": ["ENO1","GAPDH","PGK1","HK1","LDHA","ALDOC","PKM2"], "range": ["square","diamond","M-1,0L1,0M0,-1L0,1M-0.7,-0.7L0.7,0.7M-0.7,0.7L0.7,-0.7","diamond","triangle-up","diamond","circle"]}},
           "fill": {"field": "gene", "type": "nominal", "legend": null, "scale": {"domain": ["ENO1","GAPDH","PGK1","HK1","LDHA","ALDOC","PKM2"], "range": ["#505050","#8e8e8e","#1c1c1c","#3a3a3a","#2e2e2e","#ffffff","#141414"]}},
           "stroke": {"field": "gene", "type": "nominal", "legend": null, "scale": {"domain": ["ENO1","GAPDH","PGK1","HK1","LDHA","ALDOC","PKM2"], "range": ["#505050","#8e8e8e","#1c1c1c","#3a3a3a","#2e2e2e","#8e8e8e","#141414"]}},
           "size": {"field": "gene", "type": "nominal", "legend": null, "scale": {"domain": ["ENO1","GAPDH","PGK1","HK1","LDHA","ALDOC","PKM2"], "range": [55, 40, 110, 40, 55, 60, 55]}}
         }},
        {"data": {"name": "lab"}, "transform": [{"filter": {"field": "gene", "oneOf": ["ALDOC", "PKM2"]}}],
         "mark": {"type": "rule", "strokeWidth": 2},
         "encoding": {
           "x": {"field": "x1", "type": "quantitative"},
           "x2": {"field": "x2"},
           "y": {"field": "y", "type": "quantitative"},
           "color": {"field": "gene", "type": "nominal", "legend": null, "scale": {"domain": ["ENO1","GAPDH","PGK1","HK1","LDHA","ALDOC","PKM2"], "range": ["#505050","#8e8e8e","#1c1c1c","#3a3a3a","#2e2e2e","#8e8e8e","#141414"]}}
         }},
        {"data": {"name": "lab"}, "transform": [{"filter": {"field": "gene", "oneOf": ["ALDOC", "PKM2"]}}],
         "mark": {"type": "point", "opacity": 1, "strokeWidth": 1.5},
         "encoding": {
           "x": {"field": "xm", "type": "quantitative"},
           "y": {"field": "y", "type": "quantitative"},
           "shape": {"field": "gene", "type": "nominal", "legend": null, "scale": {"domain": ["ENO1","GAPDH","PGK1","HK1","LDHA","ALDOC","PKM2"], "range": ["square","diamond","M-1,0L1,0M0,-1L0,1M-0.7,-0.7L0.7,0.7M-0.7,0.7L0.7,-0.7","diamond","triangle-up","diamond","circle"]}},
           "fill": {"field": "gene", "type": "nominal", "legend": null, "scale": {"domain": ["ENO1","GAPDH","PGK1","HK1","LDHA","ALDOC","PKM2"], "range": ["#505050","#8e8e8e","#1c1c1c","#3a3a3a","#2e2e2e","#ffffff","#141414"]}},
           "stroke": {"field": "gene", "type": "nominal", "legend": null, "scale": {"domain": ["ENO1","GAPDH","PGK1","HK1","LDHA","ALDOC","PKM2"], "range": ["#505050","#8e8e8e","#1c1c1c","#3a3a3a","#2e2e2e","#8e8e8e","#141414"]}},
           "size": {"field": "gene", "type": "nominal", "legend": null, "scale": {"domain": ["ENO1","GAPDH","PGK1","HK1","LDHA","ALDOC","PKM2"], "range": [55, 40, 110, 40, 55, 60, 55]}}
         }},
        {"data": {"name": "lab"}, "transform": [{"filter": {"field": "gene", "oneOf": ["ALDOC", "PKM2"]}}],
         "mark": {"type": "text", "align": "left", "baseline": "middle", "dx": 5, "fontSize": 16.5, "color": "#000"},
         "encoding": {
           "x": {"field": "x2", "type": "quantitative"},
           "y": {"field": "y", "type": "quantitative"},
           "text": {"field": "gene"}
         }}
      ]
    },
    {
      "width": 299, "height": 143,
      "layer": [
        {"data": {"name": "d"}, "transform": [{"filter": {"field": "gene", "oneOf": ["ALDOC", "PKM2"]}}],
         "mark": {"type": "line", "clip": true, "strokeWidth": 2},
         "encoding": {
           "x": {"field": "day", "type": "quantitative", "scale": {"domain": [8.6, 42], "nice": false, "zero": false},
                 "axis": {"values": [8.6, 14, 21, 28, 35, 42], "labelOverlap": false, "labelExpr": "datum.value >= 14 ? datum.label : ''", "tickSize": 7, "labelPadding": 4, "title": null}},
           "y": {"field": "v", "type": "quantitative", "scale": {"domain": [0, 1300], "nice": false, "zero": false}, "axis": null},
           "color": {"field": "gene", "type": "nominal", "legend": null, "scale": {"domain": ["ENO1","GAPDH","PGK1","HK1","LDHA","ALDOC","PKM2"], "range": ["#505050","#8e8e8e","#1c1c1c","#3a3a3a","#2e2e2e","#8e8e8e","#141414"]}}
         }},
        {"data": {"name": "d"}, "transform": [{"filter": {"field": "gene", "oneOf": ["ALDOC", "PKM2"]}}, {"filter": "isValid(datum.lo)"}, {"filter": {"field": "day", "range": [8.6, 42]}}],
         "mark": {"type": "errorbar", "ticks": true, "size": 10, "thickness": 2, "opacity": 1},
         "encoding": {
           "x": {"field": "day", "type": "quantitative", "title": null},
           "y": {"field": "lo", "type": "quantitative", "axis": null},
           "y2": {"field": "hi"},
           "color": {"field": "gene", "type": "nominal", "legend": null, "scale": {"domain": ["ENO1","GAPDH","PGK1","HK1","LDHA","ALDOC","PKM2"], "range": ["#505050","#8e8e8e","#1c1c1c","#3a3a3a","#2e2e2e","#8e8e8e","#141414"]}}
         }},
        {"data": {"name": "d"}, "transform": [{"filter": {"field": "gene", "oneOf": ["ALDOC", "PKM2"]}}, {"filter": {"field": "day", "range": [8.6, 42]}}],
         "mark": {"type": "point", "opacity": 1, "strokeWidth": 1.5},
         "encoding": {
           "x": {"field": "day", "type": "quantitative"},
           "y": {"field": "v", "type": "quantitative", "axis": null},
           "shape": {"field": "gene", "type": "nominal", "legend": null, "scale": {"domain": ["ENO1","GAPDH","PGK1","HK1","LDHA","ALDOC","PKM2"], "range": ["square","diamond","M-1,0L1,0M0,-1L0,1M-0.7,-0.7L0.7,0.7M-0.7,0.7L0.7,-0.7","diamond","triangle-up","diamond","circle"]}},
           "fill": {"field": "gene", "type": "nominal", "legend": null, "scale": {"domain": ["ENO1","GAPDH","PGK1","HK1","LDHA","ALDOC","PKM2"], "range": ["#505050","#8e8e8e","#1c1c1c","#3a3a3a","#2e2e2e","#ffffff","#141414"]}},
           "stroke": {"field": "gene", "type": "nominal", "legend": null, "scale": {"domain": ["ENO1","GAPDH","PGK1","HK1","LDHA","ALDOC","PKM2"], "range": ["#505050","#8e8e8e","#1c1c1c","#3a3a3a","#2e2e2e","#8e8e8e","#141414"]}},
           "size": {"field": "gene", "type": "nominal", "legend": null, "scale": {"domain": ["ENO1","GAPDH","PGK1","HK1","LDHA","ALDOC","PKM2"], "range": [55, 40, 110, 40, 55, 60, 55]}}
         }}
      ]
    }
  ]
}
